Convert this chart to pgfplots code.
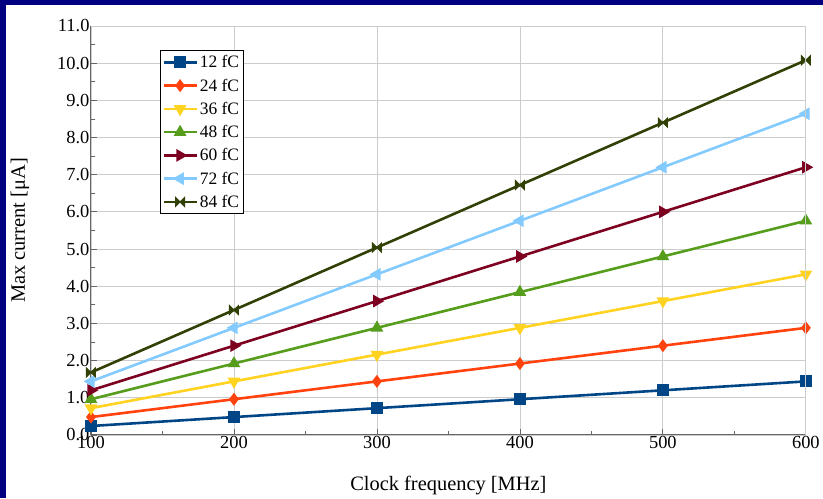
\documentclass[border=0pt]{standalone}
\usepackage{fontspec}
\setmainfont{Liberation Serif}
\usepackage{pgfplots}
\pgfplotsset{compat=1.18}
\definecolor{navyb}{RGB}{0,0,128}
\definecolor{c1}{HTML}{004586}
\definecolor{c2}{HTML}{FF420E}
\definecolor{c3}{HTML}{FFD320}
\definecolor{c4}{HTML}{579D1C}
\definecolor{c5}{HTML}{7E0021}
\definecolor{c6}{HTML}{83CAFF}
\definecolor{c7}{HTML}{314004}
\pgfdeclareplotmark{bowtie}{%
  \pgfpathmoveto{\pgfqpoint{-\pgfplotmarksize}{\pgfplotmarksize}}%
  \pgfpathlineto{\pgfqpoint{\pgfplotmarksize}{-\pgfplotmarksize}}%
  \pgfpathlineto{\pgfqpoint{\pgfplotmarksize}{\pgfplotmarksize}}%
  \pgfpathlineto{\pgfqpoint{-\pgfplotmarksize}{-\pgfplotmarksize}}%
  \pgfpathclose\pgfusepathqfillstroke}
\begin{document}
\begin{tikzpicture}
\fill[navyb] (-91bp,-63bp) rectangle (732bp,435bp);
\fill[white] (-85bp,-63bp) rectangle (732bp,430bp);
\begin{axis}[
  at={(0,0)}, anchor=south west,
  scale only axis, width=715bp, height=409bp,
  xmin=100, xmax=600, ymin=0, ymax=11,
  xtick={100,200,...,600}, ytick={0,1,...,11},
  minor x tick num=1, minor y tick num=1,
  grid=major, major grid style={draw=black!20, line width=0.8pt},
  axis x line*=bottom, axis y line*=left,
  axis line style={draw=black!60, line width=1pt},
  tick style={draw=black!60, line width=0.8pt},
  major tick length=6bp, minor tick length=4bp,
  tick align=inside,
  /pgf/number format/assume math mode=true,
  yticklabel style={/pgf/number format/fixed, /pgf/number format/fixed zerofill, /pgf/number format/precision=1, font=\fontsize{18.5}{20}\selectfont, xshift=2bp},
  xticklabel style={font=\fontsize{18.5}{20}\selectfont, yshift=2bp},
  xticklabel={\pgfmathprintnumber[fixed]{\tick}},
  xlabel={Clock frequency [MHz]},
  ylabel={Max current [μA]},
  label style={font=\fontsize{20.5}{24}\selectfont},
  xlabel style={at={(rel axis cs:0.5,0)}, anchor=center, yshift=-51bp},
  ylabel style={at={(rel axis cs:0,0.5)}, anchor=center, yshift=71bp},
  legend style={at={(rel axis cs:0.0965,0.941)}, anchor=north west,
    draw=black, line width=0.8pt, font=\fontsize{17.5}{19}\selectfont,
    inner xsep=2bp, inner ysep=3bp, row sep=5.5bp, fill=white},
  legend cell align=left,
  legend image code/.code={
    \draw[mark repeat=2,mark phase=2] plot coordinates {(0cm,0cm) (0.58cm,0cm) (1.16cm,0cm)};},
  every axis plot/.append style={line width=2.6pt, mark size=4.8bp, mark options={solid}},
]
\addplot[c1, mark=square*, mark size=4.8bp] coordinates {(100,0.24) (200,0.48) (300,0.72) (400,0.96) (500,1.2) (600,1.44)};
\addlegendentry{12 fC}
\addplot[c2, mark=diamond*, mark size=4.4bp] coordinates {(100,0.48) (200,0.96) (300,1.44) (400,1.92) (500,2.4) (600,2.88)};
\addlegendentry{24 fC}
\addplot[c3, mark=triangle*, mark options={rotate=180}] coordinates {(100,0.72) (200,1.44) (300,2.16) (400,2.88) (500,3.6) (600,4.32)};
\addlegendentry{36 fC}
\addplot[c4, mark=triangle*] coordinates {(100,0.96) (200,1.92) (300,2.88) (400,3.84) (500,4.8) (600,5.76)};
\addlegendentry{48 fC}
\addplot[c5, mark=triangle*, mark options={rotate=-90}] coordinates {(100,1.2) (200,2.4) (300,3.6) (400,4.8) (500,6.0) (600,7.2)};
\addlegendentry{60 fC}
\addplot[c6, mark=triangle*, mark options={rotate=90}] coordinates {(100,1.44) (200,2.88) (300,4.32) (400,5.76) (500,7.2) (600,8.64)};
\addlegendentry{72 fC}
\addplot[c7, mark=bowtie, mark size=4.5bp, mark options={line width=1pt}] coordinates {(100,1.68) (200,3.36) (300,5.04) (400,6.72) (500,8.4) (600,10.08)};
\addlegendentry{84 fC}
\end{axis}
\draw[black!20, line width=0.8pt] (0,409bp) -- (715bp,409bp) -- (715bp,0);
\end{tikzpicture}
\end{document}
